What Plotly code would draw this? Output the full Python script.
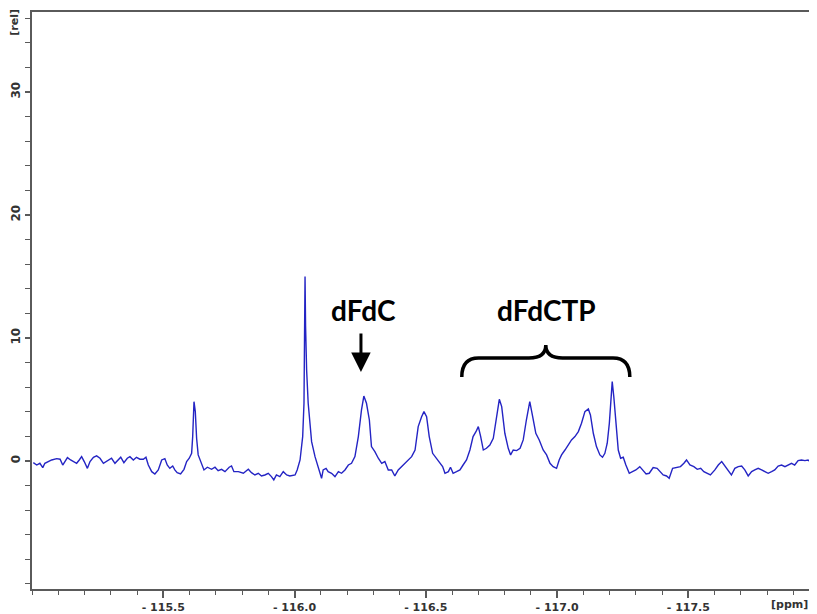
import plotly.graph_objects as go

# ---------------- data ----------------
ppm = [
    -115.005, -115.018, -115.030, -115.041, -115.049, -115.062, -115.075, -115.094, -115.107, -115.117,
    -115.126, -115.135, -115.147, -115.157, -115.170, -115.180, -115.189, -115.199, -115.211, -115.221,
    -115.234, -115.246, -115.259, -115.272, -115.291, -115.303, -115.316, -115.329, -115.338, -115.350,
    -115.363, -115.373, -115.386, -115.398, -115.411, -115.424, -115.434, -115.443, -115.456, -115.468,
    -115.481, -115.494, -115.506, -115.515, -115.525, -115.536, -115.544, -115.553, -115.566, -115.579,
    -115.589, -115.599, -115.608, -115.612, -115.617, -115.622, -115.627, -115.633, -115.646, -115.655,
    -115.668, -115.684, -115.697, -115.709, -115.722, -115.735, -115.751, -115.760, -115.769, -115.786,
    -115.805, -115.824, -115.836, -115.849, -115.862, -115.874, -115.887, -115.900, -115.912, -115.921,
    -115.931, -115.944, -115.957, -115.970,
    -115.982, -116.002, -116.010, -116.021, -116.031, -116.036, -116.038, -116.040, -116.042, -116.046,
    -116.052, -116.059, -116.065, -116.078, -116.090, -116.103, -116.109, -116.120, -116.128, -116.141,
    -116.154, -116.167, -116.179, -116.192, -116.205, -116.217, -116.230, -116.243, -116.255, -116.264,
    -116.274, -116.285, -116.293, -116.306, -116.319, -116.332, -116.344, -116.357, -116.370, -116.382,
    -116.395, -116.408, -116.420, -116.433, -116.446, -116.459, -116.471, -116.484, -116.493, -116.503,
    -116.513, -116.526, -116.539, -116.551, -116.564, -116.573, -116.586, -116.594, -116.604, -116.617,
    -116.630, -116.642, -116.655, -116.668, -116.680, -116.691, -116.700, -116.709, -116.719, -116.731,
    -116.744, -116.757, -116.770, -116.780, -116.789, -116.801, -116.814, -116.823, -116.833, -116.846,
    -116.859, -116.871, -116.883, -116.896, -116.907, -116.919, -116.932, -116.947, -116.960, -116.973,
    -116.985, -116.998, -117.008,
    -117.017, -117.030, -117.043, -117.055, -117.068, -117.081, -117.093, -117.106, -117.119, -117.127,
    -117.138, -117.150, -117.163, -117.173, -117.182, -117.191, -117.199, -117.205, -117.210, -117.216,
    -117.224, -117.233, -117.242, -117.252, -117.262, -117.275, -117.287, -117.300, -117.315, -117.326,
    -117.339, -117.351, -117.366, -117.381, -117.394, -117.404, -117.417, -117.427, -117.440, -117.455,
    -117.470, -117.483, -117.493, -117.506, -117.521, -117.534, -117.547, -117.559, -117.572, -117.584,
    -117.601, -117.614, -117.627, -117.639, -117.652, -117.664, -117.677, -117.690, -117.703, -117.715,
    -117.728, -117.741, -117.753, -117.766, -117.779, -117.791, -117.804, -117.817, -117.829, -117.842,
    -117.855, -117.868, -117.880, -117.893, -117.905, -117.918, -117.931, -117.944, -117.956, -117.969,
    -117.982, -117.990,
]

rel = [
    -0.14, -0.33, -0.19, -0.54, -0.19, -0.05, 0.08, 0.19, 0.14, -0.33,
    -0.05, 0.27, 0.08, -0.05, -0.19, 0.08, 0.35, -0.05, -0.60, -0.05,
    0.30, 0.41, 0.22, -0.19, 0.03, 0.22, -0.19, 0.14, 0.30, -0.14,
    0.22, 0.35, 0.08, 0.30, 0.14, 0.14, 0.30, -0.33, -0.87, -1.06,
    -0.73, 0.08, 0.19, -0.33, -0.60, -0.41, -0.73, -0.95, -1.06, -0.68,
    -0.05, 0.22, 0.62, 1.98, 4.82, 4.01, 1.84, 0.49, -0.19, -0.73,
    -0.51, -0.68, -0.51, -0.79, -0.68, -0.87, -0.51, -0.41, -0.87, -0.87,
    -1.00, -0.68, -0.95, -1.14, -1.00, -1.22, -1.14, -1.00, -1.27, -1.54,
    -1.14, -1.27, -0.87, -1.14,
    -1.22, -1.14, -0.73, 0.08, 1.98, 4.69, 10.0, 15.0, 11.0, 7.40,
    4.69, 2.79, 1.57, 0.35, -0.46, -1.41, -0.73, -0.60, -0.87, -1.00,
    -1.27, -0.87, -1.00, -0.73, -0.33, -0.19, 0.35, 1.98, 4.15, 5.28,
    4.69, 3.33, 1.17, 0.76, 0.22, -0.19, -0.05, -0.73, -0.73, -1.22,
    -0.73, -0.46, -0.19, 0.08, 0.35, 0.89, 2.79, 3.60, 4.01, 3.60,
    1.98, 0.62, 0.22, -0.05, -0.46, -1.00, -0.87, -0.51, -1.00, -0.87,
    -0.73, -0.33, 0.08, 0.89, 1.98, 2.38, 2.79, 1.98, 0.89, 1.03,
    1.30, 1.84, 3.60, 5.01, 4.42, 2.25, 1.03, 0.49, 0.89, 0.84,
    1.03, 1.71, 3.33, 4.82, 3.60, 2.25, 1.71, 0.89, 0.49, -0.19,
    -0.46, -0.60, 0.08,
    0.49, 0.89, 1.30, 1.71, 1.98, 2.39, 3.06, 4.01, 4.23, 3.74,
    2.25, 1.17, 0.49, 0.30, 0.62, 1.44, 3.06, 5.23, 6.45, 5.23,
    3.06, 0.89, 0.22, 0.30, -0.33, -1.00, -0.87, -0.73, -0.46, -0.73,
    -1.06, -1.00, -0.54, -0.60, -0.87, -1.14, -1.22, -1.41, -0.60, -0.51,
    -0.46, -0.19, 0.08, -0.33, -0.46, -0.68, -0.60, -0.87, -1.00, -1.14,
    -0.73, -0.33, -0.05, -0.41, -0.87, -1.14, -0.60, -0.46, -0.41, -0.73,
    -1.22, -0.87, -0.73, -0.60, -0.73, -0.87, -1.00, -0.87, -0.73, -0.41,
    -0.33, -0.46, -0.33, -0.19, -0.33, 0.03, 0.08, 0.03, 0.08, -0.19,
    -0.60, -0.46,
]

x_tick_vals = [-115.5, -116.0, -116.5, -117.0, -117.5]
x_tick_text = ["- 115.5", "- 116.0", "- 116.5", "- 117.0", "- 117.5"]
y_tick_vals = [0, 10, 20, 30]
y_tick_text = ["0", "10", "20", "30"]

x_range = [-115.0, -117.99]
y_range = [-10.41, 36.5]

# annotation anchors (data units)
dfdc_label = {"text": "dFdC", "x": -116.264, "y": 12.28}
dfdctp_label = {"text": "dFdCTP", "x": -116.959, "y": 12.28}
arrow = {"x": -116.253, "y_tip": 7.24, "y_tail": 10.49}
brace = {"x0": -116.637, "x1": -117.277, "y_end": 6.83, "y_bar": 8.37, "y_cusp": 9.43}

# ---------------- figure ----------------
fig = go.Figure(
    go.Scatter(
        x=ppm, y=rel, mode="lines",
        line=dict(color="#2424c4", width=1.4),
        hoverinfo="skip",
    )
)

axis_color = "#5a5a5a"
tick_font = dict(family="DejaVu Sans", size=11, color="#333333", weight="bold")

# the page body adds an 8px offset, so the figure is 8px smaller than the window
fig.update_layout(
    width=809, height=606,
    margin=dict(l=24, r=0, t=4, b=25),
    paper_bgcolor="white", plot_bgcolor="white",
    showlegend=False,
    xaxis=dict(
        range=x_range, automargin=False,
        tickvals=x_tick_vals, ticktext=x_tick_text,
        ticks="outside", ticklen=7, tickwidth=1.5, tickcolor=axis_color,
        minor=dict(dtick=0.1, tick0=-115.0, ticks="outside", ticklen=4,
                   tickwidth=1.2, tickcolor=axis_color, showgrid=False),
        showline=True, linecolor=axis_color, linewidth=1.5, mirror=True,
        showgrid=False, zeroline=False,
        tickfont=tick_font,
    ),
    yaxis=dict(
        range=y_range, automargin=False,
        tickvals=y_tick_vals, ticktext=y_tick_text, tickangle=-90,
        ticks="outside", ticklen=5, tickwidth=1.5, tickcolor=axis_color,
        minor=dict(dtick=2, tick0=0, ticks="outside", ticklen=5,
                   tickwidth=1.2, tickcolor=axis_color, showgrid=False),
        showline=True, linecolor=axis_color, linewidth=1.5,
        showgrid=False, zeroline=False,
        tickfont=dict(family="DejaVu Sans", size=12, color="#333333", weight="bold"),
    ),
)

label_font = dict(family="Lato", size=28, color="black", weight="bold")
for lab in (dfdc_label, dfdctp_label):
    fig.add_annotation(x=lab["x"], y=lab["y"], xref="x", yref="y",
                       text=lab["text"], showarrow=False, font=label_font,
                       xanchor="center", yanchor="middle")

fig.add_annotation(
    x=arrow["x"], y=arrow["y_tip"], ax=arrow["x"], ay=arrow["y_tail"],
    xref="x", yref="y", axref="x", ayref="y",
    text="", showarrow=True, arrowhead=2, arrowsize=1.3,
    arrowwidth=3, arrowcolor="black",
)

# curly brace
x0, x1 = brace["x0"], brace["x1"]
xc = (x0 + x1) / 2
dx = (x1 - x0) * 0.1
ye, yb, yc = brace["y_end"], brace["y_bar"], brace["y_cusp"]
path = (
    f"M {x0},{ye} Q {x0},{yb} {x0 + dx},{yb} "
    f"L {xc - dx},{yb} Q {xc},{yb} {xc},{yc} "
    f"Q {xc},{yb} {xc + dx},{yb} "
    f"L {x1 - dx},{yb} Q {x1},{yb} {x1},{ye}"
)
fig.add_shape(type="path", path=path, xref="x", yref="y",
              line=dict(color="black", width=3.5))

# unit labels
fig.add_annotation(x=0.9656, y=-0.026, xref="paper", yref="paper",
                   text="[ppm]", showarrow=False,
                   font=dict(family="DejaVu Sans", size=11, color="#333333", weight="bold"),
                   xanchor="center", yanchor="middle")
fig.add_annotation(x=-0.0217, y=0.983, xref="paper", yref="paper",
                   text="[rel]", showarrow=False, textangle=-90,
                   font=dict(family="DejaVu Sans", size=11, color="#333333", weight="bold"),
                   xanchor="center", yanchor="middle")

fig.write_html("out.html")
